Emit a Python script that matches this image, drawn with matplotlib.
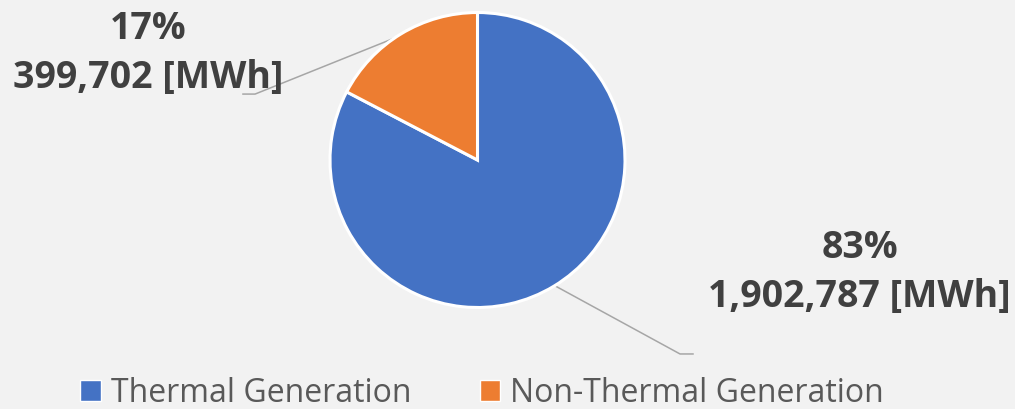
import numpy as np
import matplotlib
matplotlib.use("Agg")
import matplotlib.pyplot as plt
from matplotlib.patches import Patch

categories = ["Thermal Generation", "Non-Thermal Generation"]
values_mwh = [1902787, 399702]
colors = ["#4472C4", "#ED7D31"]

W, H = 1015, 409
fig = plt.figure(figsize=(W / 100, H / 100), dpi=100, facecolor="#F2F2F2")
cx, cy, r = 477.5, 160, 147.5
ax = fig.add_axes([(cx - r) / W, (H - cy - r) / H, 2 * r / W, 2 * r / H])
ax.set_facecolor("#F2F2F2")

wedges, _ = ax.pie(values_mwh, colors=colors, startangle=90, counterclock=False,
                   radius=1, wedgeprops=dict(edgecolor="white", linewidth=2.2))
ax.set_xlim(-1, 1)
ax.set_ylim(-1, 1)
ax.set_aspect("equal")
ax.axis("off")

total = sum(values_mwh)
# label placement in data units (radius = 1)
elbows = [(1.373, -1.315), (-1.508, 0.447)]
ends = [(1.461, -1.315), (-1.59, 0.447)]
label_pos = [(2.59, -0.76), (-2.23, 0.72)]
for w, v, el, en, lp in zip(wedges, values_mwh, elbows, ends, label_pos):
    mid = np.deg2rad((w.theta1 + w.theta2) / 2)
    sx, sy = 0.99 * np.cos(mid), 0.99 * np.sin(mid)
    ax.plot([sx, el[0], en[0]], [sy, el[1], en[1]], color="#A6A6A6", lw=1.1,
            clip_on=False, zorder=0)
    ax.text(lp[0], lp[1], f"{round(100 * v / total)}%\n{v:,} [MWh]",
            ha="center", va="center", fontsize=27, fontweight="bold",
            family="Open Sans", color="#404040", linespacing=1.38, clip_on=False)

handles = [Patch(facecolor=c, edgecolor="white", linewidth=1) for c in colors]
fig.legend(handles, categories, loc="center", bbox_to_anchor=(482 / W, 1 - 393 / H),
           ncol=2, frameon=False, prop=dict(family="Open Sans", size=23),
           labelcolor="#595959", handlelength=0.65, handleheight=0.65,
           handletextpad=0.3, columnspacing=2.15, borderpad=0, borderaxespad=0)

fig.savefig("out.png", dpi=100, facecolor=fig.get_facecolor())
